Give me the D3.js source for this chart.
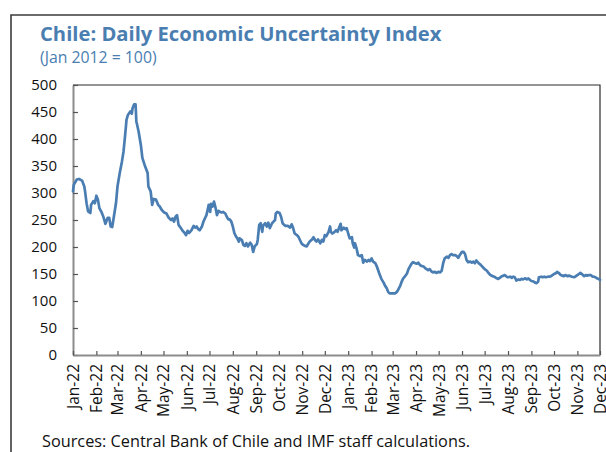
<!DOCTYPE html>
<html>
<head>
<meta charset="utf-8">
<script src="https://cdn.jsdelivr.net/npm/d3@7"></script>
<style>
  html, body { margin: 0; padding: 0; background: #fff; }
  svg { display: block; font-family: "Open Sans", "Noto Sans", sans-serif; }
</style>
</head>
<body>
<svg id="chart" width="606" height="452"></svg>
<script>
// Daily observations (date, index level)
const obsDates = [
  "2022-01-01","2022-01-02","2022-01-06","2022-01-09","2022-01-13","2022-01-16","2022-01-17","2022-01-19","2022-01-21","2022-01-24",
  "2022-01-25","2022-01-28","2022-01-30","2022-02-01","2022-02-03","2022-02-05","2022-02-08","2022-02-10","2022-02-13","2022-02-16",
  "2022-02-18","2022-02-20","2022-02-22","2022-02-24","2022-02-27","2022-03-01","2022-03-04","2022-03-07","2022-03-09","2022-03-11",
  "2022-03-13","2022-03-15","2022-03-18","2022-03-20","2022-03-21","2022-03-23","2022-03-25","2022-03-26","2022-03-29","2022-04-01",
  "2022-04-03","2022-04-06","2022-04-10","2022-04-11","2022-04-14","2022-04-16","2022-04-18","2022-04-21","2022-04-24","2022-04-26",
  "2022-04-29","2022-05-02","2022-05-05","2022-05-08","2022-05-11","2022-05-13","2022-05-15","2022-05-17","2022-05-19","2022-05-21",
  "2022-05-24","2022-05-26","2022-05-29","2022-05-31","2022-06-02","2022-06-04","2022-06-07","2022-06-10","2022-06-12","2022-06-14",
  "2022-06-16","2022-06-18","2022-06-21","2022-06-23","2022-06-26","2022-06-27","2022-06-29","2022-06-30","2022-07-02","2022-07-03",
  "2022-07-05","2022-07-07","2022-07-09","2022-07-11","2022-07-13","2022-07-15","2022-07-17","2022-07-19","2022-07-22","2022-07-24",
  "2022-07-26","2022-07-28","2022-07-30","2022-08-01","2022-08-03","2022-08-05","2022-08-07","2022-08-09","2022-08-10","2022-08-13",
  "2022-08-15","2022-08-17","2022-08-19","2022-08-21","2022-08-24","2022-08-26","2022-08-28","2022-08-30","2022-09-02","2022-09-03",
  "2022-09-05","2022-09-07","2022-09-09","2022-09-10","2022-09-13","2022-09-15","2022-09-17","2022-09-19","2022-09-22","2022-09-24",
  "2022-09-26","2022-09-27","2022-09-29","2022-10-02","2022-10-04","2022-10-06","2022-10-08","2022-10-10","2022-10-13","2022-10-16",
  "2022-10-18","2022-10-20","2022-10-22","2022-10-25","2022-10-27","2022-10-29","2022-10-31","2022-11-02","2022-11-05","2022-11-07",
  "2022-11-09","2022-11-11","2022-11-14","2022-11-16","2022-11-18","2022-11-20","2022-11-22","2022-11-25","2022-11-27","2022-11-29",
  "2022-12-01","2022-12-03","2022-12-06","2022-12-08","2022-12-09","2022-12-11","2022-12-14","2022-12-16","2022-12-18","2022-12-20",
  "2022-12-22","2022-12-23","2022-12-26","2022-12-28","2022-12-30",
  "2023-01-01","2023-01-03","2023-01-06","2023-01-07","2023-01-09","2023-01-10","2023-01-12","2023-01-14","2023-01-17","2023-01-19",
  "2023-01-21","2023-01-23","2023-01-26","2023-01-28","2023-01-30","2023-02-01","2023-02-03","2023-02-06","2023-02-08","2023-02-10",
  "2023-02-12","2023-02-14","2023-02-17","2023-02-19","2023-02-21","2023-02-23","2023-02-25","2023-02-28","2023-03-02","2023-03-04",
  "2023-03-06","2023-03-08","2023-03-11","2023-03-13","2023-03-15","2023-03-17","2023-03-20","2023-03-22","2023-03-24","2023-03-26",
  "2023-03-28","2023-03-31","2023-04-02","2023-04-04","2023-04-06","2023-04-08","2023-04-11","2023-04-13","2023-04-15","2023-04-17",
  "2023-04-19","2023-04-22","2023-04-24","2023-04-26","2023-04-28","2023-05-01","2023-05-03","2023-05-05","2023-05-07","2023-05-09",
  "2023-05-12","2023-05-14","2023-05-16","2023-05-18","2023-05-20","2023-05-23","2023-05-25","2023-05-27","2023-05-29","2023-06-01",
  "2023-06-03","2023-06-05","2023-06-07","2023-06-09","2023-06-12","2023-06-14","2023-06-16","2023-06-18","2023-06-20","2023-06-23",
  "2023-06-25","2023-06-27","2023-06-29","2023-07-01","2023-07-04","2023-07-06","2023-07-08","2023-07-10","2023-07-12","2023-07-15",
  "2023-07-17","2023-07-19","2023-07-21","2023-07-24","2023-07-26","2023-07-28","2023-07-30","2023-08-01","2023-08-04","2023-08-06",
  "2023-08-08","2023-08-10","2023-08-12","2023-08-15","2023-08-17","2023-08-19","2023-08-21","2023-08-24","2023-08-26","2023-08-28",
  "2023-08-30","2023-09-01","2023-09-04","2023-09-06","2023-09-08","2023-09-10","2023-09-11","2023-09-14","2023-09-16","2023-09-18",
  "2023-09-20","2023-09-23","2023-09-25","2023-09-27","2023-09-29","2023-10-01","2023-10-04","2023-10-05","2023-10-08","2023-10-10",
  "2023-10-12","2023-10-14","2023-10-16","2023-10-19","2023-10-21","2023-10-23","2023-10-25","2023-10-28","2023-10-30","2023-11-01",
  "2023-11-03","2023-11-05","2023-11-07","2023-11-10","2023-11-12","2023-11-14","2023-11-16","2023-11-19","2023-11-21","2023-11-23",
  "2023-11-25","2023-11-27","2023-11-30","2023-12-01"
];

const uncertainty = [
  303,315,325,326,323,312,303,281,266,263,
  278,285,281,295,288,272,264,257,243,254,
  254,238,237,254,281,312,337,359,377,405,
  436,445,451,447,457,464,464,433,414,389,
  365,352,337,312,303,278,289,288,278,275,
  268,264,262,254,250,253,247,256,259,241,
  235,231,226,222,230,226,231,239,236,238,
  233,231,238,247,256,259,271,278,265,280,
  275,284,273,259,267,265,264,265,262,256,
  251,251,247,238,226,220,216,210,216,213,
  204,202,207,201,208,204,191,201,206,213,
  241,244,228,239,244,238,245,235,244,247,
  250,262,265,263,256,244,241,239,239,236,
  242,235,225,222,219,213,207,204,202,201,
  206,210,214,218,213,210,214,207,213,210,
  222,220,228,238,228,225,228,231,228,236,
  243,231,236,233,235,
  225,216,218,207,199,207,198,185,183,185,
  171,176,173,176,174,179,173,170,164,156,
  148,141,134,128,124,117,114,114,114,114,
  116,120,128,136,142,145,151,159,164,169,
  172,170,169,171,167,165,164,161,159,157,
  159,154,153,154,152,154,153,156,170,179,
  182,180,185,187,185,185,183,180,185,191,
  191,187,176,172,173,171,173,170,175,170,
  168,165,162,159,156,152,149,147,146,144,
  142,141,143,146,147,148,145,144,145,143,
  145,144,138,140,139,141,140,142,140,142,
  139,137,136,134,133,136,144,145,144,145,
  144,145,145,146,148,150,152,154,151,148,
  147,146,148,146,147,146,145,144,146,148,
  150,152,150,146,148,147,148,148,145,145,
  144,142,140,139
];

// Axis labels
const monthLabels = ["Jan-22","Feb-22","Mar-22","Apr-22","May-22","Jun-22","Jul-22","Aug-22","Sep-22","Oct-22","Nov-22","Dec-22",
                     "Jan-23","Feb-23","Mar-23","Apr-23","May-23","Jun-23","Jul-23","Aug-23","Sep-23","Oct-23","Nov-23","Dec-23"];
const yTicks = [0, 50, 100, 150, 200, 250, 300, 350, 400, 450, 500];

const titleText = "Chile: Daily Economic Uncertainty Index";
const subtitleText = "(Jan 2012 = 100)";
const sourceText = "Sources: Central Bank of Chile and IMF staff calculations.";

const parse = d3.timeParse("%Y-%m-%d");
const series = obsDates.map((d, i) => ({ date: parse(d), value: uncertainty[i] }));
const monthDates = d3.timeMonths(new Date(2022, 0, 1), new Date(2023, 11, 2));

const svg = d3.select("#chart");
const blue = "#4a7eb1";
const plot = { left: 73, right: 600, top: 85, bottom: 355 };

const x = d3.scaleTime()
  .domain([new Date(2022, 0, 1), new Date(2023, 11, 1)])
  .range([plot.left, plot.right]);
const y = d3.scaleLinear().domain([0, 500]).range([plot.bottom, plot.top]);

// outer frame
svg.append("path")
  .attr("d", "M11,470 L11,15 L620,15")
  .attr("fill", "none")
  .attr("stroke", "#3c3c3c")
  .attr("stroke-width", 1.6);

// titles
svg.append("text")
  .attr("x", 40).attr("y", 41)
  .attr("fill", blue)
  .attr("font-weight", 700)
  .attr("font-size", 20.2)
  .text(titleText);

svg.append("text")
  .attr("x", 40).attr("y", 63)
  .attr("fill", blue)
  .attr("font-size", 15.8)
  .text(subtitleText);

// plot box: top and right edges
svg.append("path")
  .attr("d", `M${plot.left},${plot.top} L${plot.right},${plot.top} L${plot.right},${plot.bottom}`)
  .attr("fill", "none")
  .attr("stroke", "#2b2b2b")
  .attr("stroke-width", 1.2);

// y axis
const yAxis = svg.append("g")
  .attr("transform", `translate(${plot.left},0)`)
  .call(d3.axisLeft(y).tickValues(yTicks).tickSize(-5).tickPadding(16).tickSizeOuter(0));
yAxis.select(".domain").attr("stroke", "#8c8c8c").attr("stroke-width", 2);
yAxis.selectAll(".tick line").attr("stroke", "#555").attr("stroke-width", 1.2);
yAxis.selectAll(".tick text")
  .attr("font-size", 15)
  .attr("fill", "#111")
  .style("font-family", "'Open Sans', sans-serif");

// x axis
const xAxis = svg.append("g")
  .attr("transform", `translate(0,${plot.bottom})`)
  .call(d3.axisBottom(x).tickValues(monthDates).tickSize(-4).tickSizeOuter(0)
    .tickFormat((d, i) => monthLabels[i]));
xAxis.select(".domain").attr("stroke", "#8c8c8c").attr("stroke-width", 2);
xAxis.selectAll(".tick line").attr("stroke", "#555").attr("stroke-width", 1.2);
xAxis.selectAll(".tick text")
  .attr("font-size", 15.5)
  .attr("fill", "#111")
  .attr("transform", "rotate(-90)")
  .attr("text-anchor", "end")
  .attr("dy", "0.35em")
  .attr("x", -9)
  .attr("y", 0)
  .style("font-family", "'Open Sans', sans-serif");

// series line
const line = d3.line()
  .x(d => x(d.date))
  .y(d => y(d.value));

svg.append("path")
  .datum(series)
  .attr("d", line)
  .attr("fill", "none")
  .attr("stroke", "#4a7eb3")
  .attr("stroke-width", 2.7)
  .attr("stroke-linejoin", "round")
  .attr("stroke-linecap", "round");

// source note
svg.append("text")
  .attr("x", 42).attr("y", 447)
  .attr("fill", "#111")
  .attr("font-size", 16.3)
  .text(sourceText);
</script>
</body>
</html>
